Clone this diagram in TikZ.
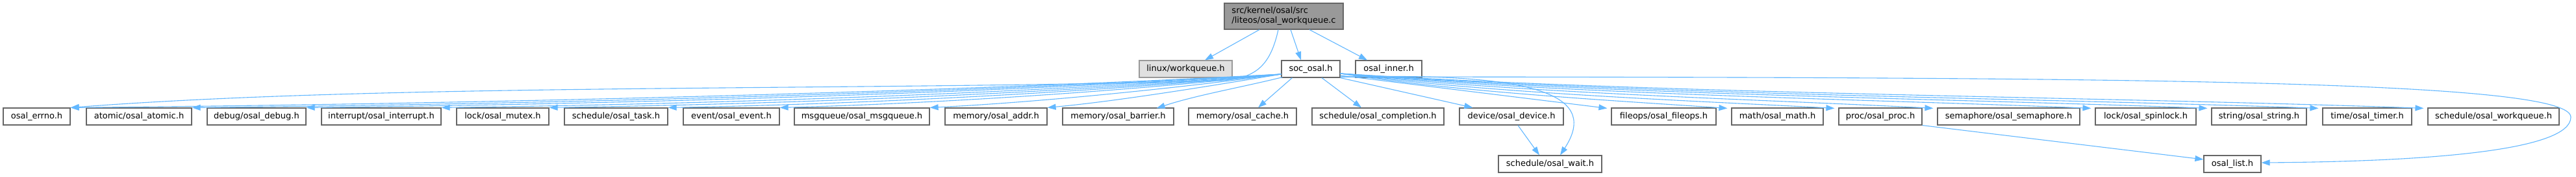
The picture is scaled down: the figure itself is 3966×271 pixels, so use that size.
\documentclass[tikz,border=0pt]{standalone}
\usepackage{fontspec}
\setmainfont{DejaVu Sans}
\usetikzlibrary{arrows.meta,calc}
\definecolor{edgeblue}{HTML}{63B8FF}
\definecolor{boxline}{HTML}{666666}
\definecolor{topfill}{HTML}{999999}
\definecolor{extfill}{HTML}{E0E0E0}
\definecolor{extline}{HTML}{999999}
\tikzset{
  filebox/.style={draw=boxline, fill=white, line width=1.2pt, minimum height=26pt, inner sep=0pt,
    font=\fontsize{13}{15}\selectfont, text=black},
  topbox/.style={filebox, fill=topfill, minimum height=40pt, align=left},
  extbox/.style={filebox, draw=extline, fill=extfill},
  incl/.style={draw=edgeblue, line width=1.1pt, -{Triangle[length=13pt,width=9pt]}}
}
\begin{document}
\begin{tikzpicture}[x=1pt,y=-1pt]
\useasboundingbox[fill=white] (0,0) rectangle (3966,271);
% top
\node[topbox, minimum width=183pt] (top) at (1976.5,25) {src/kernel/osal/src\\/liteos/osal\_workqueue.c};
% row 2
\node[extbox, minimum width=143pt] (linuxwq) at (1825.5,106) {linux/workqueue.h};
\node[filebox, minimum width=90pt] (soc) at (2018,106) {soc\_osal.h};
\node[filebox, minimum width=102pt] (inner) at (2138,106) {osal\_inner.h};
% row 3
\node[filebox, minimum width=103pt] (errno) at (56.5,179) {osal\_errno.h};
\node[filebox, minimum width=162pt] (atomic) at (214,179) {atomic/osal\_atomic.h};
\node[filebox, minimum width=152pt] (debug) at (395,179) {debug/osal\_debug.h};
\node[filebox, minimum width=184pt] (interrupt) at (587,179) {interrupt/osal\_interrupt.h};
\node[filebox, minimum width=142pt] (mutex) at (774,179) {lock/osal\_mutex.h};
\node[filebox, minimum width=159pt] (task) at (948.5,179) {schedule/osal\_task.h};
\node[filebox, minimum width=148pt] (event) at (1126,179) {event/osal\_event.h};
\node[filebox, minimum width=208pt] (msgq) at (1327,179) {msgqueue/osal\_msgqueue.h};
\node[filebox, minimum width=157pt] (addr) at (1533.5,179) {memory/osal\_addr.h};
\node[filebox, minimum width=171pt] (barrier) at (1721.5,179) {memory/osal\_barrier.h};
\node[filebox, minimum width=166pt] (cache) at (1913,179) {memory/osal\_cache.h};
\node[filebox, minimum width=203pt] (completion) at (2121.5,179) {schedule/osal\_completion.h};
\node[filebox, minimum width=160pt] (device) at (2327,179) {device/osal\_device.h};
\node[filebox, minimum width=161pt] (fileops) at (2561.5,179) {fileops/osal\_fileops.h};
\node[filebox, minimum width=141pt] (math) at (2736.5,179) {math/osal\_math.h};
\node[filebox, minimum width=128pt] (proc) at (2895,179) {proc/osal\_proc.h};
\node[filebox, minimum width=219pt] (semaphore) at (3092.5,179) {semaphore/osal\_semaphore.h};
\node[filebox, minimum width=155pt] (spinlock) at (3303.5,179) {lock/osal\_spinlock.h};
\node[filebox, minimum width=146pt] (string) at (3478,179) {string/osal\_string.h};
\node[filebox, minimum width=137pt] (timer) at (3644.5,179) {time/osal\_timer.h};
\node[filebox, minimum width=202pt] (swq) at (3839,179) {schedule/osal\_workqueue.h};
% row 4
\node[filebox, minimum width=159pt] (wait) at (2386.5,252) {schedule/osal\_wait.h};
\node[filebox, minimum width=88pt] (list) at (3437,252) {osal\_list.h};

% edges from top node
\draw[incl] ($(top.south)+(-37.5,0)$) -- ($(linuxwq.north)+(29.5,0)$);
\draw[incl] ($(top.south)+(10.5,0)$) -- ($(soc.north)+(-15,0)$);
\draw[incl] ($(top.south)+(39.5,0)$) -- ($(inner.north)+(-33,0)$);
\draw[incl] ($(top.south)+(-8.5,0)$) .. controls (1955,105) and (1930,120) .. (1880,124)
  .. controls (1300,140) and (600,128) .. (errno.north east);

% edges from soc_osal.h, left fan
\draw[incl] ($(soc.west)+(0,8)$) .. controls +(-560,30) and +(560,-5) .. (errno.north east);
\draw[incl] ($(soc.west)+(0,8)$) .. controls +(-503,30) and +(503,-5) .. (atomic.north east);
\draw[incl] ($(soc.west)+(0,8)$) .. controls +(-450,30) and +(450,-5) .. (debug.north east);
\draw[incl] ($(soc.west)+(0,8)$) .. controls +(-388,30) and +(388,-5) .. (interrupt.north east);
\draw[incl] ($(soc.west)+(0,8)$) .. controls +(-338,30) and +(338,-5) .. (mutex.north east);
\draw[incl] ($(soc.west)+(0,8)$) .. controls +(-284,28) and +(284,-5) .. (task.north east);
\draw[incl] ($(soc.west)+(0,8)$) .. controls +(-232,26) and +(232,-6) .. (event.north east);
\draw[incl] ($(soc.west)+(0,8)$) .. controls +(-163,22) and +(163,-8) .. (msgq.north east);
\draw[incl] ($(soc.west)+(0,8)$) .. controls +(-108,18) and +(108,-10) .. (addr.north east);
\draw[incl] ($(soc.south west)+(2,-1)$) .. controls +(-60,15) and +(60,-20) .. ($(barrier.north east)+(-27,1)$);
\draw[incl] ($(soc.south west)+(17,0)$) -- ($(cache.north)+(24,0)$);
\draw[incl] ($(soc.south)+(17,0)$) -- ($(completion.north)+(-25.5,0)$);
\draw[incl] (soc.south east) -- ($(device.north west)+(21,0)$);
\draw[incl] ($(soc.east)+(0,10)$) -- ($(fileops.north west)+(-6,1)$);
% right fan
\draw[incl] ($(soc.east)+(0,7)$) .. controls +(179,28) and +(-179,-12) .. ($(math.north west)+(-6,1)$);
\draw[incl] ($(soc.east)+(0,7)$) .. controls +(229,30) and +(-229,-12) .. ($(proc.north west)+(-6,1)$);
\draw[incl] ($(soc.east)+(0,7)$) .. controls +(274,30) and +(-274,-14) .. ($(semaphore.north west)+(-6,1)$);
\draw[incl] ($(soc.east)+(0,7)$) .. controls +(347,32) and +(-347,-14) .. ($(spinlock.north west)+(-6,1)$);
\draw[incl] ($(soc.east)+(0,7)$) .. controls +(400,32) and +(-400,-15) .. ($(string.north west)+(-6,1)$);
\draw[incl] ($(soc.east)+(0,7)$) .. controls +(452,32) and +(-452,-16) .. ($(timer.north west)+(-6,1)$);
\draw[incl] ($(soc.east)+(0,7)$) .. controls +(500,32) and +(-500,-18) .. ($(swq.north west)+(-6,1)$);
% to osal_wait.h
\draw[incl] ($(soc.south east)+(1,-1)$) .. controls (2380,110) and (2460,150) .. ($(wait.north)+(15.5,0)$);
\draw[incl] ($(device.south)+(10,0)$) -- ($(wait.north)+(-16.5,0)$);
% to osal_list.h
\draw[incl] (proc.south east) -- ($(list.west)+(0,-7)$);
\draw[incl] ($(soc.east)+(0,12)$) .. controls (3200,119) and (3958,120) .. (3958,180)
  .. controls (3958,230) and (3750,248) .. ($(list.east)+(0,-2)$);
\end{tikzpicture}
\end{document}
